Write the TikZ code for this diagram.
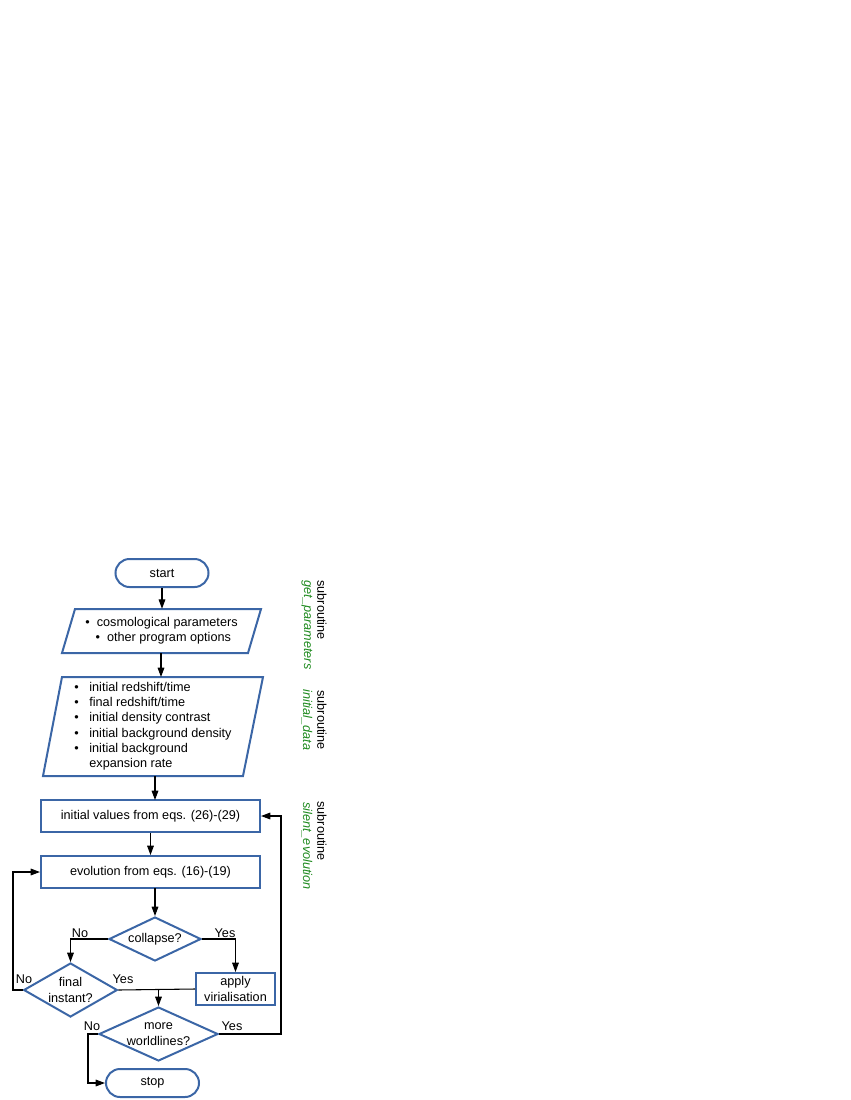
\documentclass[tikz,border=0pt]{standalone}
\usepackage{fontspec}
\setmainfont{Liberation Sans}
\usetikzlibrary{shapes.geometric,arrows.meta}
\definecolor{bl}{HTML}{3B66A6}
\definecolor{gr}{HTML}{1E8A1E}
\begin{document}
\begin{tikzpicture}[x=0.75pt,y=-0.75pt,font=\fontsize{9.5}{11.5}\selectfont,
 blk/.style={draw=bl,line width=1.5pt},
 term/.style={blk,rounded corners=14*0.75pt,minimum width=93*0.75pt,minimum height=28*0.75pt,inner sep=0pt},
 proc/.style={blk,minimum width=219*0.75pt,minimum height=32*0.75pt,inner sep=0pt},
 dec/.style={blk,diamond,aspect=2,inner sep=0pt,align=center},
 arr/.style={-{Triangle[length=7pt,width=5pt]},line width=0.8pt},
 ln/.style={line width=0.8pt},
 lab/.style={inner sep=1pt},
 side/.style={rotate=-90,inner sep=0pt}]
\useasboundingbox (0,0) rectangle (850,1100);
\node[term] (start) at (162,573) {start};
\draw[blk] (75,609) -- (261,609) -- (248,653) -- (62,653) -- cycle;
\node[align=center,inner sep=0pt,minimum height=44*0.75pt] (p1) at (161.5,631) {•\ \ cosmological parameters\\\ •\ \ other program options};
\draw[blk] (62,677) -- (263,677) -- (243,776) -- (43,776) -- cycle;
\node[align=left,inner sep=0pt,minimum height=99*0.75pt] (p2) at (153,726.5) {\begin{tabular}{@{}l@{\ \ \ }l@{}}•&initial redshift/time\\ •&final redshift/time\\ •&initial density contrast\\ •&initial background density\\ •&initial background\\ &expansion rate\end{tabular}};
\node[proc] (b1) at (150.5,816) {initial values from eqs. (26)-(29)};
\node[proc] (b2) at (150.5,872) {evolution from eqs. (16)-(19)};
\node[dec,minimum width=92*0.75pt,minimum height=44*0.75pt] (col) at (155,939) {collapse?};
\node[dec,minimum width=91*0.75pt,minimum height=54*0.75pt] (fin) at (70.5,990) {final\\instant?};
\node[blk,minimum width=79*0.75pt,minimum height=32*0.75pt,inner sep=0pt,align=center] (vir) at (235.5,989) {apply\\virialisation};
\node[dec,minimum width=119*0.75pt,minimum height=46*0.75pt] (more) at (158.5,1034) {more\\worldlines?};
\node[term] (stop) at (152.5,1083) {stop};
\draw[arr] (start) -- (p1.north -| start);
\draw[arr] (161,653) -- (161,677);
\draw[arr] (155,776) -- (155,800);
\draw[arr] (b1) -- (b2);
\draw[arr] (155,888) -- (col.north);
\draw[arr] (col.west) -| (fin.north);
\draw[arr] (col.east) -| (vir.north);
\coordinate (j) at (158.5,989);
\draw[ln] (fin.east) -- (vir.west);
\draw[arr] (j) -- (more.north);
\draw[arr] (fin.west) -- (13,990) |- (b2.west);
\draw[arr] (more.east) -- (281,1034) |- (b1.east);
\draw[arr] (more.west) -- (88,1034) |- (stop.west);
\node[lab] at (80,933) {No};
\node[lab] at (225,933) {Yes};
\node[lab] at (24,979) {No};
\node[lab] at (123,979) {Yes};
\node[lab] at (92,1026) {No};
\node[lab] at (232,1026) {Yes};
\node[side] at (322,610) {subroutine};
\node[side,gr,font=\fontsize{9.5}{11.5}\selectfont\itshape] at (307,625) {get\_parameters};
\node[side] at (322,720) {subroutine};
\node[side,gr,font=\fontsize{9.5}{11.5}\selectfont\itshape] at (307,720) {initial\_data};
\node[side] at (322,831) {subroutine};
\node[side,gr,font=\fontsize{9.5}{11.5}\selectfont\itshape] at (307,846) {silent\_evolution};
\end{tikzpicture}
\end{document}
